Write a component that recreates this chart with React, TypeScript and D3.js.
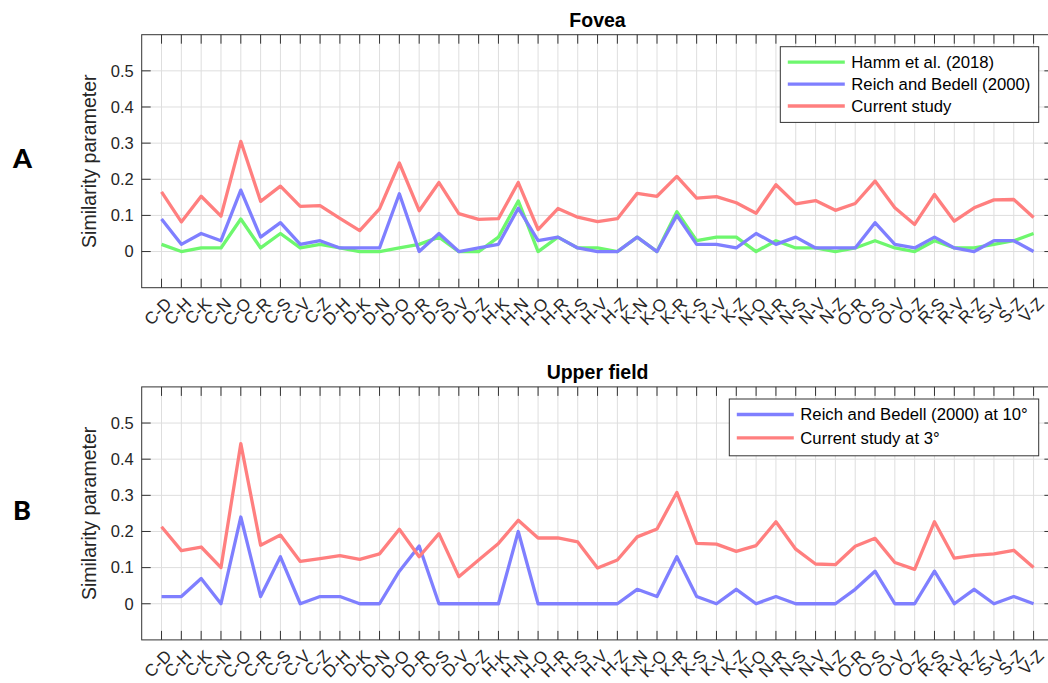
import React from "react";
import * as d3 from "d3";

// Letter pairs compared (x categories)
const pairs = [
  "C-D", "C-H", "C-K", "C-N", "C-O", "C-R", "C-S", "C-V", "C-Z", "D-H", "D-K", "D-N", "D-O", "D-R", "D-S",
  "D-V", "D-Z", "H-K", "H-N", "H-O", "H-R", "H-S", "H-V", "H-Z", "K-N", "K-O", "K-R", "K-S", "K-V", "K-Z",
  "N-O", "N-R", "N-S", "N-V", "N-Z", "O-R", "O-S", "O-V", "O-Z", "R-S", "R-V", "R-Z", "S-V", "S-Z", "V-Z",
];

const yTicks = [0, 0.1, 0.2, 0.3, 0.4, 0.5];

// Fovea
const foveaHamm = [
  0.02, 0, 0.01, 0.01, 0.09, 0.01, 0.05, 0.01, 0.02, 0.01, 0, 0, 0.01, 0.02, 0.04,
  0, 0, 0.04, 0.14, 0, 0.04, 0.01, 0.01, 0, 0.04, 0, 0.11, 0.03, 0.04, 0.04,
  0, 0.03, 0.01, 0.01, 0, 0.01, 0.03, 0.01, 0, 0.03, 0.01, 0.01, 0.02, 0.03, 0.05,
];
const foveaReich = [
  0.09, 0.02, 0.05, 0.03, 0.17, 0.04, 0.08, 0.02, 0.03, 0.01, 0.01, 0.01, 0.16, 0, 0.05,
  0, 0.01, 0.02, 0.12, 0.03, 0.04, 0.01, 0, 0, 0.04, 0, 0.1, 0.02, 0.02, 0.01,
  0.05, 0.02, 0.04, 0.01, 0.01, 0.01, 0.08, 0.02, 0.01, 0.04, 0.01, 0, 0.03, 0.03, 0,
];
const foveaCurrent = [
  0.165, 0.082, 0.153, 0.098, 0.305, 0.139, 0.181, 0.125, 0.127, 0.092, 0.058, 0.118, 0.245, 0.113, 0.191,
  0.105, 0.089, 0.091, 0.191, 0.061, 0.119, 0.095, 0.083, 0.091, 0.161, 0.153, 0.208, 0.148, 0.152, 0.135,
  0.106, 0.185, 0.132, 0.141, 0.114, 0.133, 0.195, 0.121, 0.075, 0.158, 0.084, 0.121, 0.143, 0.144, 0.094,
];

// Upper field
const upperReich = [
  0.02, 0.02, 0.07, 0, 0.24, 0.02, 0.13, 0, 0.02, 0.02, 0, 0, 0.09, 0.16, 0,
  0, 0, 0, 0.2, 0, 0, 0, 0, 0, 0.04, 0.02, 0.13, 0.02, 0, 0.04,
  0, 0.02, 0, 0, 0, 0.04, 0.09, 0, 0, 0.09, 0, 0.04, 0, 0.02, 0,
];
const upperCurrent = [
  0.213, 0.147, 0.157, 0.1, 0.443, 0.162, 0.19, 0.117, 0.125, 0.133, 0.123, 0.138, 0.206, 0.13, 0.194,
  0.075, 0.121, 0.167, 0.231, 0.182, 0.182, 0.171, 0.099, 0.121, 0.185, 0.207, 0.308, 0.167, 0.165, 0.145,
  0.161, 0.227, 0.151, 0.11, 0.108, 0.159, 0.181, 0.114, 0.095, 0.227, 0.126, 0.134, 0.138, 0.148, 0.1,
];

const GREEN = "#6ef76e";
const BLUE = "#7f7fff";
const RED = "#ff7f7f";
const FONT = "'Liberation Sans', Arial, Helvetica, sans-serif";

type Series = { name: string; values: number[]; color: string };

const W = 1048;
const H = 683;
const LEFT = 141.7;
const RIGHT = 1053.4;
const PANEL_H = 253;

function Panel({
  top, title, series, legend, letter,
}: {
  top: number;
  title: string;
  series: Series[];
  legend: { x: number; y: number; w: number; rowH: number };
  letter: string;
}) {
  const x = d3.scaleLinear().domain([0, pairs.length + 1]).range([LEFT, RIGHT]);
  const y = d3.scaleLinear().domain([-0.1, 0.6]).range([top + PANEL_H, top]);
  const bottom = top + PANEL_H;
  const line = d3
    .line<number>()
    .x((_, i) => x(i + 1))
    .y((v) => y(v));
  const tickLen = 9;
  const legH = legend.rowH * series.length + 10;

  return (
    <g>
      <text x={(LEFT + RIGHT) / 2} y={top - 8} textAnchor="middle" fontFamily={FONT} fontWeight="bold" fontSize={19.5} fill="#000">
        {title}
      </text>
      <text x={13} y={top + 133} fontFamily="Lato, 'Noto Sans', sans-serif" fontWeight={900} fontSize={27} fill="#000">
        {letter}
      </text>
      {/* grid */}
      {pairs.map((p, i) => (
        <line key={"gx" + p} x1={x(i + 1)} x2={x(i + 1)} y1={top} y2={bottom} stroke="#dedede" strokeWidth={1} />
      ))}
      {yTicks.map((t) => (
        <line key={"gy" + t} x1={LEFT} x2={RIGHT} y1={y(t)} y2={y(t)} stroke="#dedede" strokeWidth={1} />
      ))}
      {/* ticks */}
      {pairs.map((p, i) => (
        <g key={"tx" + p}>
          <line x1={x(i + 1)} x2={x(i + 1)} y1={top} y2={top + tickLen} stroke="#333" strokeWidth={1} />
          <line x1={x(i + 1)} x2={x(i + 1)} y1={bottom} y2={bottom - tickLen} stroke="#333" strokeWidth={1} />
        </g>
      ))}
      {yTicks.map((t) => (
        <g key={"ty" + t}>
          <line x1={LEFT} x2={LEFT + tickLen} y1={y(t)} y2={y(t)} stroke="#333" strokeWidth={1} />
          <line x1={RIGHT} x2={RIGHT - tickLen} y1={y(t)} y2={y(t)} stroke="#333" strokeWidth={1} />
          <text x={LEFT - 8} y={y(t)} dy="0.35em" textAnchor="end" fontFamily={FONT} fontSize={16.5} fill="#262626">
            {String(t)}
          </text>
        </g>
      ))}
      <rect x={LEFT} y={top} width={RIGHT - LEFT} height={PANEL_H} fill="none" stroke="#333" strokeWidth={1} />
      {/* series */}
      {series.map((s) => (
        <path key={s.name} d={line(s.values) ?? ""} fill="none" stroke={s.color} strokeWidth={3.3} strokeLinejoin="round" />
      ))}
      {/* x tick labels */}
      {pairs.map((p, i) => (
        <text
          key={"lx" + p}
          transform={`translate(${x(i + 1) + 7},${bottom + 13}) rotate(-45)`}
          textAnchor="end"
          dy="0.35em"
          fontFamily={FONT}
          fontSize={17}
          fill="#262626"
        >
          {p}
        </text>
      ))}
      <text
        transform={`translate(96,${(top + bottom) / 2}) rotate(-90)`}
        textAnchor="middle"
        fontFamily={FONT}
        fontSize={19.5}
        fill="#262626"
      >
        Similarity parameter
      </text>
      {/* legend */}
      <rect x={legend.x} y={legend.y} width={legend.w} height={legH} fill="#fff" stroke="#333" strokeWidth={1} />
      {series.map((s, i) => {
        const cy = legend.y + 15.5 + i * legend.rowH;
        return (
          <g key={"lg" + s.name}>
            <line x1={legend.x + 7.5} x2={legend.x + 64.5} y1={cy} y2={cy} stroke={s.color} strokeWidth={3.3} />
            <text x={legend.x + 71} y={cy} dy="0.35em" fontFamily={FONT} fontSize={16.7} fill="#000">
              {s.name}
            </text>
          </g>
        );
      })}
    </g>
  );
}

export default function App() {
  return (
    <div style={{ position: "absolute", left: 0, top: 0 }}>
      <svg width={W} height={H} style={{ display: "block", background: "#fff" }}>
        <Panel
          top={34.7}
          title="Fovea"
          letter="A"
          series={[
            { name: "Hamm et al. (2018)", values: foveaHamm, color: GREEN },
            { name: "Reich and Bedell (2000)", values: foveaReich, color: BLUE },
            { name: "Current study", values: foveaCurrent, color: RED },
          ]}
          legend={{ x: 780.3, y: 46.7, w: 258.4, rowH: 21.9 }}
        />
        <Panel
          top={386.9}
          title="Upper field"
          letter="B"
          series={[
            { name: "Reich and Bedell (2000) at 10°", values: upperReich, color: BLUE },
            { name: "Current study at 3°", values: upperCurrent, color: RED },
          ]}
          legend={{ x: 729.3, y: 399, w: 309.4, rowH: 23.4 }}
        />
      </svg>
    </div>
  );
}
